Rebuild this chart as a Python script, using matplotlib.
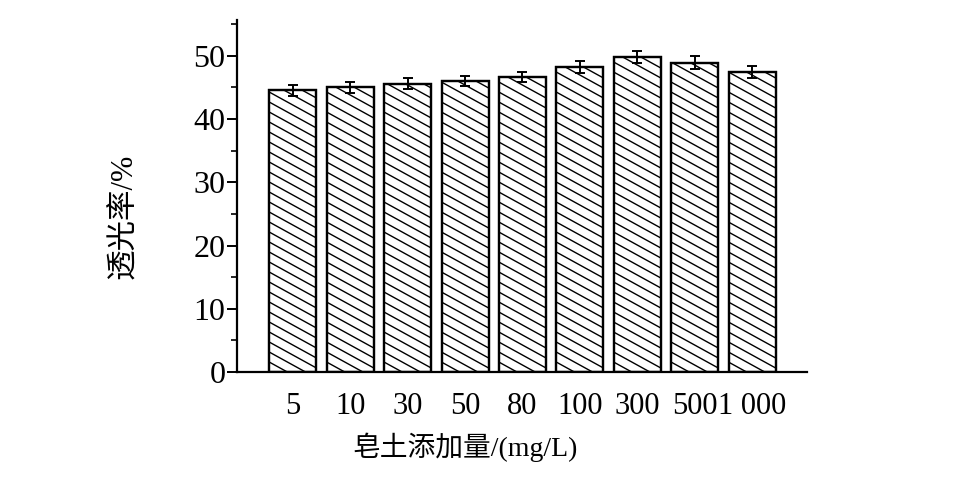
import numpy as np
import matplotlib.pyplot as plt
from matplotlib.ticker import MultipleLocator

plt.rcParams["font.family"] = ["Liberation Serif", "Noto Sans CJK SC"]

doses = ["5", "10", "30", "50", "80", "100", "300", "500", "1 000"]
transmittance = [44.5, 45.0, 45.6, 46.0, 46.7, 48.2, 49.8, 48.9, 47.4]
errors = [0.9, 0.9, 0.8, 0.8, 0.8, 1.0, 0.9, 1.0, 1.0]


def shallow_hatch(ax, bar, slope_px=0.55, gap_px=10):
    # diagonal lines, shallower than the built-in 45° hatch, clipped to the bar
    fig = ax.figure
    fig.canvas.draw()
    to_px = ax.transData
    x0, y0 = bar.get_x(), bar.get_y()
    x1, y1 = x0 + bar.get_width(), y0 + bar.get_height()
    (px0, py0), (px1, py1) = to_px.transform([(x0, y0), (x1, y1)])
    inv = to_px.inverted()
    w = px1 - px0
    for c in np.arange(py0 - 2 * gap_px, py1 + w * slope_px + gap_px, gap_px):
        pts = inv.transform([(px0 - 5, c + 5 * slope_px), (px1 + 5, c - (w + 5) * slope_px)])
        ln, = ax.plot(pts[:, 0], pts[:, 1], color="black", lw=1.0, zorder=1.5)
        ln.set_clip_path(bar)


def main():
    fig = plt.figure(figsize=(9.58, 4.82), dpi=100)
    ax = fig.add_axes([0.247, 0.228, 0.595, 0.730])

    x = range(len(doses))
    bars = ax.bar(x, transmittance, width=0.82, color="white", edgecolor="black",
                  linewidth=1.6, zorder=1, yerr=errors,
                  error_kw=dict(ecolor="black", elinewidth=1.4, capsize=3.5,
                                capthick=1.4, zorder=3))

    ax.set_xlim(-0.98, 8.95)
    ax.set_ylim(0, 55.6)
    ax.set_xticks(list(x))
    ax.set_xticklabels(doses)
    ax.tick_params(axis="x", length=0, pad=14, labelsize=22)
    ax.yaxis.set_major_locator(MultipleLocator(10))
    ax.yaxis.set_minor_locator(MultipleLocator(5))
    ax.tick_params(axis="y", which="major", length=7, width=1.4, labelsize=23, pad=1)
    ax.tick_params(axis="y", which="minor", length=4, width=1.2)

    for s in ["top", "right"]:
        ax.spines[s].set_visible(False)
    for s in ["left", "bottom"]:
        ax.spines[s].set_linewidth(1.6)

    for b in bars:
        shallow_hatch(ax, b)
    # redraw outlines on top of the hatching
    for b in bars:
        ax.add_patch(plt.Rectangle((b.get_x(), b.get_y()), b.get_width(), b.get_height(),
                                   fill=False, edgecolor="black", lw=1.6, zorder=2))
    ax.set_xlim(-0.98, 8.95)
    ax.set_ylim(0, 55.6)

    ax.set_ylabel("透光率/%", fontsize=22, va="center")
    ax.yaxis.set_label_coords(-0.196, 0.443)
    ax.set_xlabel("皂土添加量/(mg/L)", fontsize=20, va="center")
    ax.xaxis.set_label_coords(0.4, -0.213)

    fig.savefig("out.png", dpi=100)


if __name__ == "__main__":
    main()
